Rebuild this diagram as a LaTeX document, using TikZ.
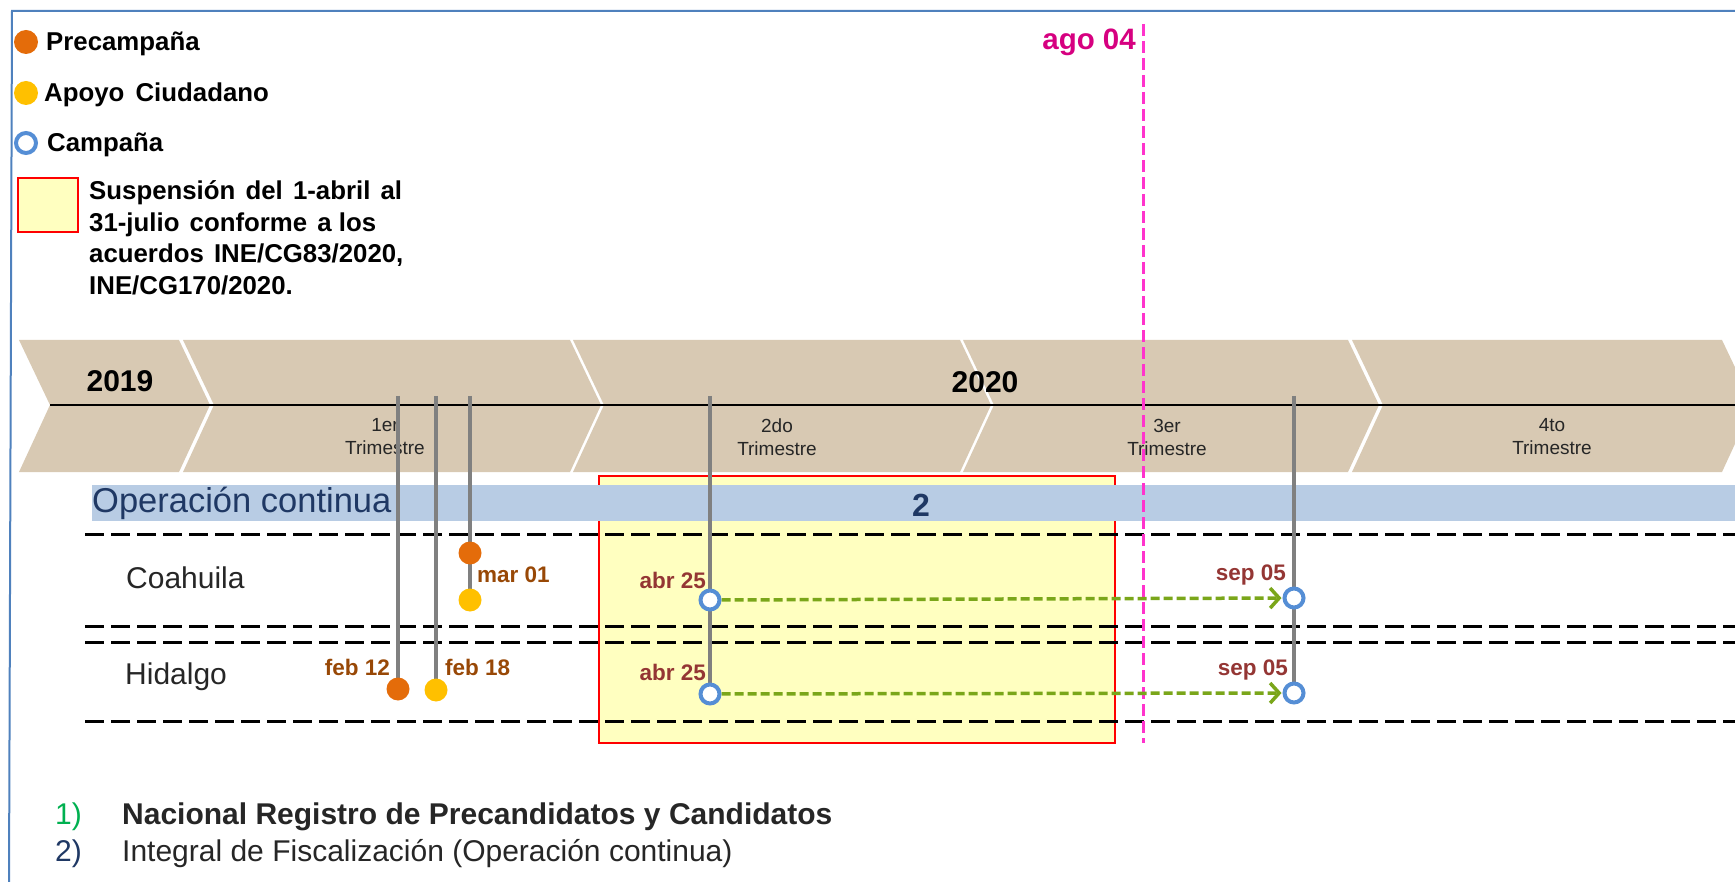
\documentclass[tikz,border=0pt]{standalone}
\usepackage{fontspec}
\setmainfont{Liberation Sans}
\usetikzlibrary{arrows.meta}
\definecolor{tanc}{RGB}{216,201,179}
\definecolor{bordc}{RGB}{79,129,189}
\definecolor{oranc}{RGB}{228,108,10}
\definecolor{yelc}{RGB}{255,192,0}
\definecolor{ringc}{RGB}{85,142,213}
\definecolor{grayc}{RGB}{128,128,128}
\definecolor{bandc}{RGB}{184,204,228}
\definecolor{navyc}{RGB}{31,56,100}
\definecolor{boxc}{RGB}{255,255,192}
\definecolor{magtext}{RGB}{214,0,128}
\definecolor{magline}{RGB}{255,51,204}
\definecolor{greenc}{RGB}{122,166,26}
\definecolor{brownc}{RGB}{152,72,6}
\definecolor{maroonc}{RGB}{148,54,52}
\definecolor{darkc}{RGB}{38,38,38}
\definecolor{numgreen}{RGB}{0,176,80}
\pgfdeclarelayer{bg}\pgfdeclarelayer{mid}\pgfsetlayers{bg,mid,main}
\begin{document}
\begin{tikzpicture}[x=1pt,y=-1pt,
  txt/.style={inner sep=0pt, text=darkc},
  legtext/.style={txt, text=black, anchor=west, font=\fontsize{25.8}{30}\selectfont\bfseries},
  susptext/.style={txt, text=black, anchor=base west, font=\fontsize{25.8}{30}\selectfont\bfseries},
  yeartext/.style={txt, text=black, font=\fontsize{30}{36}\selectfont\bfseries},
  trimtext/.style={txt, align=center, font=\fontsize{19}{23}\selectfont},
  rowtext/.style={txt, anchor=west, font=\fontsize{30}{36}\selectfont},
  datebrown/.style={txt, text=brownc, font=\fontsize{22.5}{27}\selectfont\bfseries},
  datemaroon/.style={txt, text=maroonc, font=\fontsize{22.5}{27}\selectfont\bfseries},
  chev/.style={fill=tanc},
  dotbase/.style={circle, minimum size=23pt, inner sep=0pt},
  orangedot/.style={dotbase, fill=oranc},
  yellowdot/.style={dotbase, fill=yelc},
  ringdot/.style={circle, minimum size=19pt, inner sep=0pt, draw=ringc, line width=4pt, fill=white},
  gline/.style={draw=grayc, line width=4pt},
  rowdash/.style={draw=black, line width=3pt, dash pattern=on 19pt off 7pt},
  garrow/.style={draw=greenc, line width=3.5pt, dash pattern=on 9pt off 4pt, -{Straight Barb[length=9pt,width=20pt]}, shorten >=1pt},
  magdash/.style={draw=magline, line width=3pt, dash pattern=on 12pt off 5pt}
]
\useasboundingbox (0,0) rectangle (1735,882);

\begin{pgfonlayer}{bg}
% frame
\draw[bordc, line width=2pt] (1740,11) -- (12,11) -- (9,886);
% chevrons
\fill[chev] (19,340) -- (179,340) -- (210,405) -- (179,472) -- (19,472) -- (50,405) -- cycle;
\fill[chev] (183,340) -- (570,340) -- (601,405) -- (570,472) -- (183,472) -- (214,405) -- cycle;
\fill[chev] (573,340) -- (960,340) -- (991,405) -- (960,472) -- (573,472) -- (604,405) -- cycle;
\fill[chev] (963,340) -- (1348,340) -- (1379,405) -- (1348,472) -- (963,472) -- (994,405) -- cycle;
\fill[chev] (1352,340) -- (1722,340) -- (1753,405) -- (1722,472) -- (1352,472) -- (1383,405) -- cycle;
\draw[black, line width=2.5pt] (50,405) -- (1740,405);
\node[yeartext] (y2019) at (120,381) {2019};
\node[yeartext] (y2020) at (985,382) {2020};
\node[trimtext] (q1) at (385,437) {1er\\Trimestre};
\node[trimtext] (q2) at (777,437) {2do\\Trimestre};
\node[trimtext] (q3) at (1167,437) {3er\\Trimestre};
\node[trimtext] (q4) at (1552,437) {4to\\Trimestre};
% suspension box
\draw[fill=boxc, draw=red, line width=2.5pt] (599,476) rectangle (1115,743);
% operacion continua band
\fill[bandc] (92,485) rectangle (1740,521);
\node[txt, text=navyc, anchor=west, font=\fontsize{34.5}{40}\selectfont] (opc) at (92,503) {Operación continua};
\node[txt, text=navyc, font=\fontsize{32}{38}\selectfont\bfseries] (num2) at (921,505) {2};
% row separators
\draw[rowdash] (85,534) -- (1740,534);
\draw[rowdash] (85,626) -- (1740,626);
\draw[rowdash] (85,642) -- (1740,642);
\draw[rowdash] (85,721) -- (1740,721);
\node[rowtext] (coah) at (126,578) {Coahuila};
\node[rowtext] (hida) at (125,677) {Hidalgo};
\end{pgfonlayer}

% legend
\node[orangedot, minimum size=24pt] (lgP) at (26,42) {};
\node[legtext] (lgPt) at (46,44) {Precampaña};
\node[yellowdot, minimum size=24pt] (lgA) at (26,93) {};
\node[legtext] (lgAt) at (44,95) {Apoyo\hspace{4pt} Ciudadano};
\node[ringdot, minimum size=20pt] (lgC) at (26,143) {};
\node[legtext] (lgCt) at (47,145) {Campaña};
\draw[fill=boxc, draw=red, line width=2.5pt] (18,178) rectangle (78,232);
\node[susptext] (s1) at (89,200) {Suspensión\hspace{3pt} del\hspace{3pt} 1-abril\hspace{3pt} al};
\node[susptext] (s2) at (89,232) {31-julio\hspace{3pt} conforme\hspace{3pt} a los};
\node[susptext] (s3) at (89,263) {acuerdos\hspace{3pt} INE/CG83/2020,};
\node[susptext] (s4) at (89,295) {INE/CG170/2020.};

% ago 04
\node[txt, text=magtext, anchor=east, font=\fontsize{29.5}{35}\selectfont\bfseries] (ago) at (1136,42) {ago 04};
\coordinate (magtop) at (1143,24);
\coordinate (magbot) at (1143,743);

% event markers
\node[orangedot] (oC) at (470,553) {};
\node[yellowdot] (yC) at (470,600) {};
\node[orangedot] (oH) at (398,689) {};
\node[yellowdot] (yH) at (436,690) {};
\node[ringdot] (rC1) at (710,600) {};
\node[ringdot] (rH1) at (710,694) {};
\node[ringdot] (rC2) at (1294,598) {};
\node[ringdot] (rH2) at (1294,693) {};
\coordinate (tA) at (398,396);
\coordinate (tB) at (436,396);
\coordinate (tC) at (470,396);
\coordinate (tD) at (710,396);
\coordinate (tE) at (1294,396);

\begin{pgfonlayer}{mid}
\draw[magdash] (magtop) -- (magbot);
\draw[gline] (tA) -- (oH.center);
\draw[gline] (tB) -- (yH.center);
\draw[gline] (tC) -- (yC.center);
\draw[gline] (tD) -- (rH1.center);
\draw[gline] (tE) -- (rH2.center);
\draw[garrow] (rC1) -- (rC2);
\draw[garrow] (rH1) -- (rH2);
\end{pgfonlayer}

% date labels
\node[datebrown, anchor=west] (dmar) at (477,575) {mar 01};
\node[datebrown, anchor=east] (dfeb12) at (390,667) {feb 12};
\node[datebrown, anchor=west] (dfeb18) at (445,667) {feb 18};
\node[datemaroon, anchor=east] (dabrC) at (706,580) {abr 25};
\node[datemaroon, anchor=east] (dabrH) at (706,672) {abr 25};
\node[datemaroon, anchor=east] (dsepC) at (1286,575) {sep 05};
\node[datemaroon, anchor=east] (dsepH) at (1288,670) {sep 05};

% footnotes
\node[txt, text=numgreen, anchor=west, font=\fontsize{30}{36}\selectfont] (n1) at (55,817) {1)};
\node[txt, anchor=west, font=\fontsize{30}{36}\selectfont\bfseries] (f1) at (122,817) {Nacional Registro de Precandidatos y Candidatos};
\node[txt, text=navyc, anchor=west, font=\fontsize{30}{36}\selectfont] (n2) at (55,854) {2)};
\node[txt, anchor=west, font=\fontsize{30}{36}\selectfont] (f2) at (122,854) {Integral de Fiscalización (Operación continua)};
\end{tikzpicture}
\end{document}
